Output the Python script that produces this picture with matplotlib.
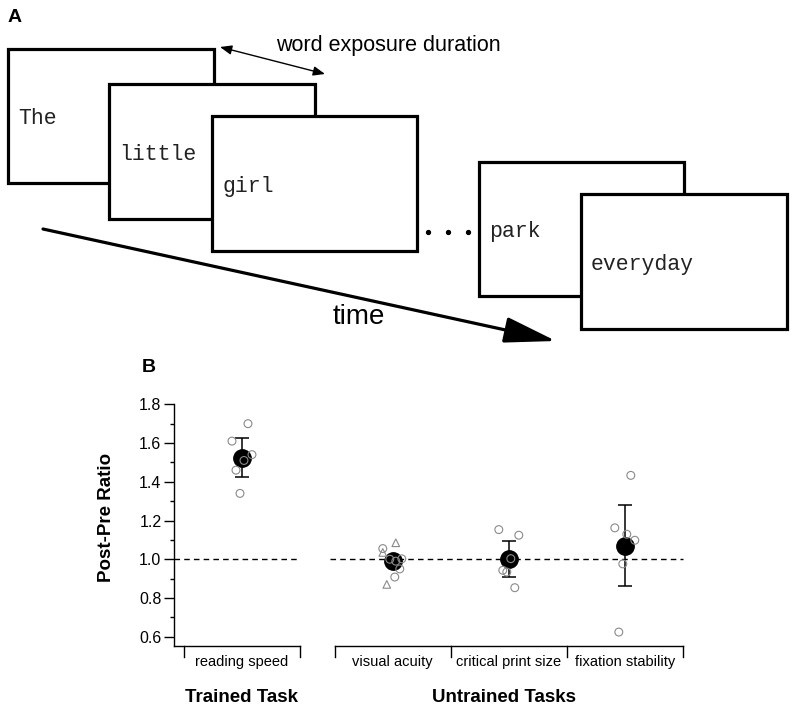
import matplotlib
matplotlib.use("Agg")
import matplotlib.pyplot as plt
from matplotlib.patches import Rectangle, FancyArrowPatch
import numpy as np

plt.rcParams["font.family"] = ["Liberation Sans", "DejaVu Sans"]

# ---- panel A: words of the sentence, one frame each
WORDS = ["The", "little", "girl", "park", "everyday"]
# frame layout in figure pixels: left, top, right, bottom
FRAMES = [(8, 49, 214, 183), (109, 84, 315, 219), (212, 116, 417, 251),
          (479, 162, 684, 296), (581, 194, 787, 329)]

# ---- panel B: post/pre ratios
CATEGORIES = ["reading speed", "visual acuity", "critical print size", "fixation stability"]
MEANS = [1.525, 0.99, 1.00, 1.07]
ERRORS = [0.10, 0.02, 0.093, 0.21]

READING_SPEED = [1.70, 1.61, 1.54, 1.51, 1.46, 1.34]
VISUAL_ACUITY_CIRCLES = [1.055, 1.002, 0.95, 0.908, 1.00, 0.99]
VISUAL_ACUITY_TRIANGLES = [1.085, 1.035, 0.87]
CRITICAL_PRINT_SIZE = [1.153, 1.124, 1.003, 0.943, 0.934, 0.853]
FIXATION_STABILITY = [1.433, 1.162, 1.129, 1.098, 0.976, 0.624]

# horizontal jitter of the individual points (pixels)
JITTER_RS = [6, -10, 10, 2, -6, -2]
JITTER_VA_C = [-10, 9, 7, 2, -3, 3]
JITTER_VA_T = [3, -10, -6]
JITTER_CPS = [-10, 10, 2, -6, -2, 6]
JITTER_FS = [6, -10, 2, 10, -2, -6]

CENTERS = [0.0, 1.3, 2.3, 3.3]
PX_PER_UNIT = 116.0
GRAY = "#8a8a8a"


def main() -> None:
    fig = plt.figure(figsize=(7.95, 7.11), dpi=100)

    # overlay in pixel coordinates for the schematic
    ov = fig.add_axes([0, 0, 1, 1])
    ov.set_xlim(0, 795)
    ov.set_ylim(711, 0)
    ov.axis("off")

    arrow = FancyArrowPatch((43, 229), (556, 341), arrowstyle="-|>,head_length=0.8,head_width=0.2",
                            mutation_scale=40, lw=2.3, color="black", shrinkA=0, shrinkB=0, zorder=1)
    ov.add_patch(arrow)
    ov.text(359, 317, "time", fontsize=20, ha="center", va="center")

    for word, (l, t, r, b) in zip(WORDS, FRAMES):
        ov.add_patch(Rectangle((l, t), r - l, b - t, facecolor="white", edgecolor="black",
                               lw=2.3, zorder=2))
        ov.text(l + 10, t + (b - t) * 0.52, word, family="Liberation Mono", fontsize=15.5,
                ha="left", va="center", zorder=3, color="#222222")

    ov.plot([428, 448, 468], [232, 232, 232], "o", color="black", markersize=2.8, zorder=3)

    ov.annotate("", xy=(220, 47), xytext=(325, 74),
                arrowprops=dict(arrowstyle="<|-|>,head_length=0.5,head_width=0.2",
                                lw=1, color="black", shrinkA=0, shrinkB=0, mutation_scale=14))
    ov.text(276, 46, "word exposure duration", fontsize=15.5, ha="left", va="center")

    ov.text(8, 17, "A", fontsize=14, fontweight="bold", ha="left", va="center")
    ov.text(142, 367, "B", fontsize=14, fontweight="bold", ha="left", va="center")

    # ---- panel B
    ylo = 0.552
    ax = fig.add_axes([174 / 795, 65 / 711, 516 / 795, 241.7 / 711])
    ax.patch.set_alpha(0)
    ax.set_xlim(-0.586, 3.862)
    ax.set_ylim(ylo, 1.8)
    for side in ("top", "right", "bottom"):
        ax.spines[side].set_visible(False)
    ax.spines["left"].set_linewidth(1)
    ax.set_xticks([])
    ax.set_yticks(np.round(np.arange(0.6, 1.81, 0.2), 1))
    ax.set_yticks(np.round(np.arange(0.7, 1.71, 0.2), 1), minor=True)
    ax.yaxis.set_major_formatter(plt.FormatStrFormatter("%.1f"))
    ax.tick_params(axis="y", which="major", length=7.5, width=1, pad=1.5, labelsize=11.5)
    ax.tick_params(axis="y", which="minor", length=3, width=1)
    ax.set_ylabel("Post-Pre Ratio", fontsize=13.5, fontweight="bold")
    ax.yaxis.set_label_coords(-0.114, 0.53)

    # reference line at 1.0
    ax.plot([-0.586, 0.5], [1, 1], ls=(0, (4, 3)), color="black", lw=1, zorder=1)
    ax.plot([0.76, 3.8], [1, 1], ls=(0, (4, 3)), color="black", lw=1, zorder=1)

    # bracket axes below the groups
    tick_drop = 11 / 193.3
    for x0, x1, ticks in ((-0.586, 0.5, [-0.5, 0.5]), (0.8, 3.8, [0.8, 1.8, 2.8, 3.8])):
        ax.plot([x0, x1], [ylo, ylo], color="black", lw=1, clip_on=False)
        for tx in ticks:
            ax.plot([tx, tx], [ylo, ylo - tick_drop], color="black", lw=1, clip_on=False)

    # means and error bars
    ax.errorbar(CENTERS, MEANS, yerr=ERRORS, fmt="o", color="black", markersize=12.5,
                capsize=4.7, elinewidth=1.1, capthick=1.1, zorder=3)

    circle_sets = [(0, READING_SPEED, JITTER_RS), (1, VISUAL_ACUITY_CIRCLES, JITTER_VA_C),
                   (2, CRITICAL_PRINT_SIZE, JITTER_CPS), (3, FIXATION_STABILITY, JITTER_FS)]
    for idx, vals, jit in circle_sets:
        xs = CENTERS[idx] + np.asarray(jit) / PX_PER_UNIT
        ax.scatter(xs, vals, s=32, facecolors="none", edgecolors=GRAY, linewidths=0.8,
                   zorder=4, clip_on=False)
    xs = CENTERS[1] + np.asarray(JITTER_VA_T) / PX_PER_UNIT
    ax.scatter(xs, VISUAL_ACUITY_TRIANGLES, s=30, marker="^", facecolors="none",
               edgecolors=GRAY, linewidths=0.8, zorder=4)

    label_y = ylo - 16 / 193.3
    for cx, name in zip(CENTERS, CATEGORIES):
        ax.text(cx, label_y, name, fontsize=10.5, ha="center", va="center")

    group_y = ylo - 51 / 193.3
    ax.text(0.0, group_y, "Trained Task", fontsize=13.5, fontweight="bold", ha="center", va="center")
    ax.text(2.26, group_y, "Untrained Tasks", fontsize=13.5, fontweight="bold", ha="center", va="center")

    fig.savefig("out.png", dpi=100)
    plt.close(fig)


if __name__ == "__main__":
    main()
